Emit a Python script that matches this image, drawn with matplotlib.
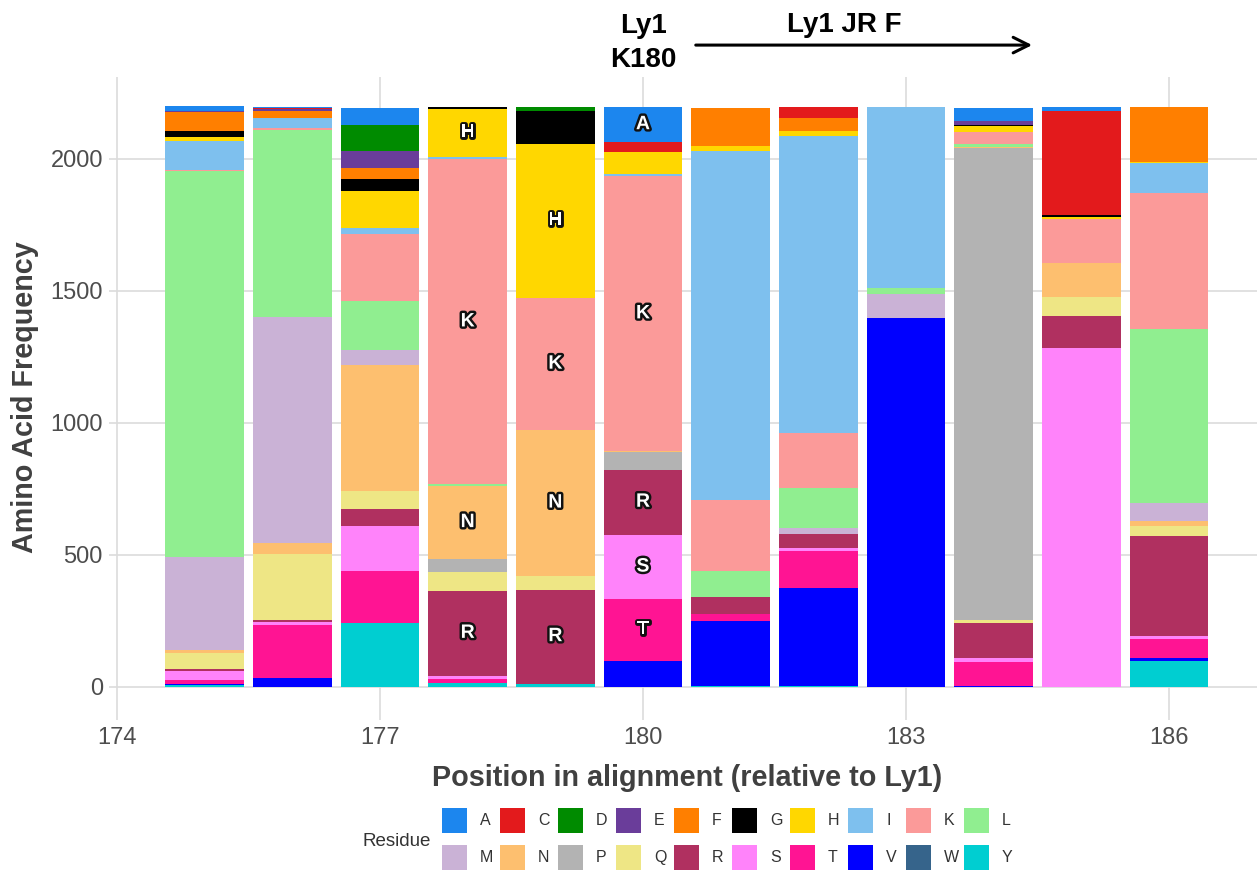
import matplotlib
matplotlib.use("Agg")
import matplotlib.pyplot as plt
import matplotlib.patheffects as pe
from matplotlib.patches import Rectangle
import numpy as np

plt.rcParams['font.family'] = ['Liberation Sans', 'DejaVu Sans']

positions = [175, 176, 177, 178, 179, 180, 181, 182, 183, 184, 185, 186]
residues = ['A', 'C', 'D', 'E', 'F', 'G', 'H', 'I', 'K', 'L',
            'M', 'N', 'P', 'Q', 'R', 'S', 'T', 'V', 'W', 'Y']
res_colors = ['#1C86EE', '#E31A1C', '#008B00', '#6A3D9A', '#FF7F00', '#000000',
              '#FFD700', '#7EC0EE', '#FB9A99', '#90EE90', '#CAB2D6', '#FDBF6F',
              '#B3B3B3', '#EEE685', '#B03060', '#FF83FA', '#FF1493', '#0000FF',
              '#36648B', '#00CED1']

A = [18, 6, 63, 0, 0, 131, 0, 0, 0, 49, 15, 0]
C = [0, 4, 3, 0, 0, 39, 0, 43, 0, 0, 393, 0]
D = [0, 0, 96, 0, 15, 0, 0, 0, 0, 0, 0, 0]
E = [5, 8, 64, 0, 0, 0, 0, 0, 0, 16, 0, 0]
F = [72, 25, 44, 0, 0, 0, 144, 48, 0, 0, 0, 208]
G = [21, 0, 43, 6, 122, 0, 0, 0, 0, 6, 6, 0]
H = [16, 0, 142, 183, 586, 81, 19, 19, 0, 21, 9, 5]
I = [110, 39, 21, 9, 0, 10, 1324, 1124, 684, 0, 0, 115]
K = [3, 6, 256, 1231, 499, 1042, 267, 208, 0, 45, 168, 513]
L = [1462, 709, 185, 5, 0, 0, 98, 154, 24, 11, 0, 661]
M = [353, 855, 58, 0, 0, 0, 0, 20, 88, 0, 0, 67]
N = [9, 43, 475, 279, 553, 4, 0, 0, 0, 4, 126, 19]
P = [0, 0, 0, 49, 0, 65, 0, 0, 0, 1789, 0, 0]
Q = [63, 251, 69, 71, 52, 0, 0, 0, 0, 9, 73, 37]
R = [6, 6, 65, 320, 355, 247, 65, 54, 0, 136, 122, 378]
S = [35, 13, 168, 13, 0, 244, 0, 13, 0, 13, 1283, 14]
T = [13, 198, 199, 15, 0, 232, 29, 139, 0, 92, 0, 72]
V = [5, 35, 0, 0, 0, 100, 243, 372, 1399, 3, 0, 8]
W = [0, 0, 0, 0, 0, 0, 0, 0, 0, 0, 0, 0]
Y = [8, 0, 242, 15, 13, 0, 5, 3, 0, 0, 0, 100]

counts = {'A': A, 'C': C, 'D': D, 'E': E, 'F': F, 'G': G, 'H': H, 'I': I,
          'K': K, 'L': L, 'M': M, 'N': N, 'P': P, 'Q': Q, 'R': R, 'S': S,
          'T': T, 'V': V, 'W': W, 'Y': Y}

labelled = [(178, 'H'), (178, 'K'), (178, 'N'), (178, 'R'),
            (179, 'H'), (179, 'K'), (179, 'N'), (179, 'R'),
            (180, 'A'), (180, 'K'), (180, 'R'), (180, 'S'), (180, 'T')]

x_ticks = [174, 177, 180, 183, 186]
y_ticks = [0, 500, 1000, 1500, 2000]

W_PX, H_PX = 1257, 873
fig = plt.figure(figsize=(W_PX / 100, H_PX / 100), dpi=100)
ax = fig.add_axes([112.6 / W_PX, 1 - 716 / H_PX, 1148.5 / W_PX, (716 - 77.3) / H_PX])

color_of = dict(zip(residues, res_colors))
x = np.array(positions, dtype=float)
bottom = np.zeros(len(positions))
centers = {}
for res in reversed(residues):
    vals = np.array(counts[res], dtype=float)
    ax.bar(x, vals, width=0.9, bottom=bottom, color=color_of[res],
           edgecolor='none', linewidth=0, zorder=2)
    for xi, b, v in zip(positions, bottom, vals):
        centers[(xi, res)] = b + v / 2
    bottom = bottom + vals

for (xi, res) in labelled:
    ax.text(xi, centers[(xi, res)], res, ha='center', va='center',
            fontsize=14, fontweight='bold', color='white', zorder=4,
            path_effects=[pe.withStroke(linewidth=3.5, foreground='#111111')])

ax.set_xlim(173.95, 187.05)
ax.set_ylim(-110, 2309)
ax.set_xticks(x_ticks)
ax.set_yticks(y_ticks)
ax.set_xticklabels([str(t) for t in x_ticks])
ax.set_yticklabels([str(t) for t in y_ticks])
ax.grid(True, color='#DCDCDC', linewidth=1.2, zorder=0)
ax.set_axisbelow(True)
for s in ax.spines.values():
    s.set_visible(False)
ax.tick_params(axis='both', colors='#DCDCDC', length=3, width=1.2,
               labelcolor='#4D4D4D', labelsize=17)
ax.tick_params(axis='x', pad=5)
ax.tick_params(axis='y', pad=4)

ax.set_xlabel('Position in alignment (relative to Ly1)', fontsize=20.7,
              fontweight='bold', color='#404040', labelpad=11)
ax.set_ylabel('Amino Acid Frequency', fontsize=20.7, fontweight='bold',
              color='#404040', labelpad=8)

# Annotations above the panel
ax.text(180, 2440, 'Ly1\nK180', ha='center', va='center', fontsize=20,
        fontweight='bold', color='black', linespacing=1.4, clip_on=False)
ax.text(182.3, 2508, 'Ly1 JR F', ha='center', va='center', fontsize=20,
        fontweight='bold', color='black', clip_on=False)
ax.annotate('', xy=(184.47, 2431), xytext=(180.57, 2431),
            arrowprops=dict(arrowstyle='->', color='black', lw=2.2,
                            mutation_scale=28), annotation_clip=False)

# Legend (manual, two rows of ten)
fig.text(363 / W_PX, 1 - 841 / H_PX, 'Residue', ha='left', va='center',
         fontsize=13.5, color='#333333')
key = 25
for i, res in enumerate(residues):
    row, col = divmod(i, 10)
    kx = 442 + col * 58
    ky = 808 + row * 37
    fig.add_artist(Rectangle((kx / W_PX, 1 - (ky + key) / H_PX), key / W_PX, key / H_PX,
                             transform=fig.transFigure, facecolor=color_of[res],
                             edgecolor='none'))
    fig.text((kx + key + 13) / W_PX, 1 - (ky + key / 2) / H_PX, res, ha='left',
             va='center', fontsize=11.5, color='#333333')

fig.savefig('out.png', dpi=100)
